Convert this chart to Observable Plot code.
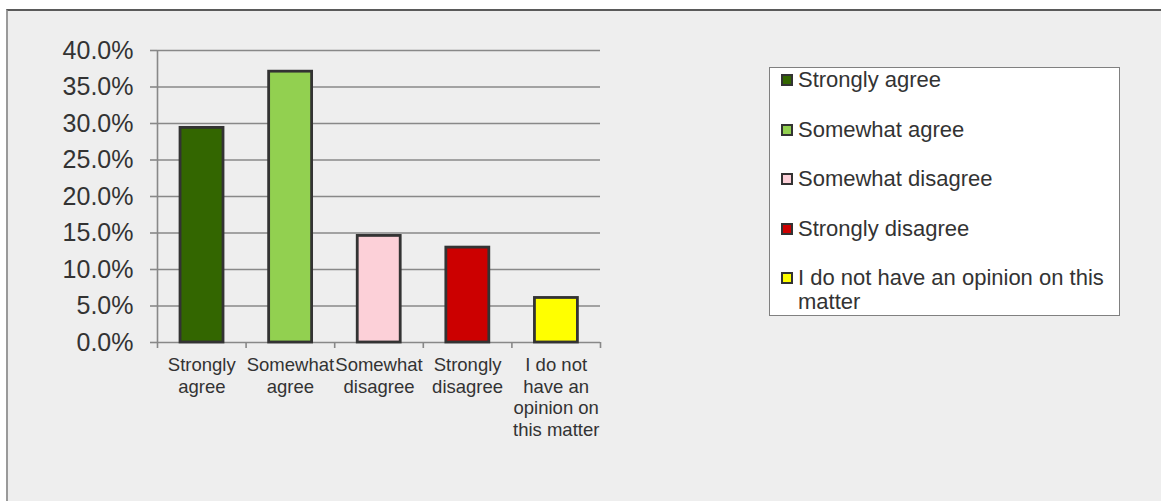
<!DOCTYPE html>
<html>
<head>
<meta charset="utf-8">
<script src="https://cdn.jsdelivr.net/npm/d3@7"></script>
<script src="https://cdn.jsdelivr.net/npm/@observablehq/plot@0.6"></script>
<style>
  html, body { margin: 0; padding: 0; background: #ffffff; }
  body { width: 1161px; height: 501px; position: relative; overflow: hidden; font-family: "Liberation Sans", Arial, sans-serif; }
  #frame { position: absolute; left: 6px; top: 9px; width: 1300px; height: 700px; background: #eeeeee;
           border-top: 2px solid #5a5a5a; border-left: 2px solid #9a9a9a; }
  #chart { position: absolute; left: 0; top: 0; }
  #legend { position: absolute; left: 769px; top: 67px; width: 349px; height: 247px; background: #ffffff;
            border: 1px solid #808080; }
  .item { position: absolute; left: 0; width: 349px; }
  .sw { position: absolute; left: 11px; width: 8px; height: 8px; border: 2px solid #333333; }
  .lt { position: absolute; left: 28px; width: 318px; font-size: 22px; line-height: 24px; color: #333333; }
</style>
</head>
<body>
<div id="frame"></div>
<div id="chart"></div>
<div id="legend"></div>
<script>
const categories = ["Strongly agree", "Somewhat agree", "Somewhat disagree", "Strongly disagree", "I do not have an opinion on this matter"];
const values = [0.294, 0.371, 0.146, 0.130, 0.061];
const colors = ["#336600", "#92d050", "#fcd0d8", "#cc0000", "#ffff00"];
const tickLabels = ["Strongly\nagree", "Somewhat\nagree", "Somewhat\ndisagree", "Strongly\ndisagree", "I do not\nhave an\nopinion on\nthis matter"];
const yTicks = [0, 0.05, 0.10, 0.15, 0.20, 0.25, 0.30, 0.35, 0.40];

const data = categories.map((c, i) => ({category: c, index: i, value: values[i], label: tickLabels[i]}));
const boundaries = d3.range(categories.length + 1);

const chart = Plot.plot({
  width: 1161,
  height: 501,
  marginLeft: 157,
  marginRight: 561,
  marginTop: 50,
  marginBottom: 159,
  style: {background: "transparent", fontFamily: "'Liberation Sans', Arial, sans-serif", overflow: "visible"},
  x: {type: "linear", domain: [0, categories.length], axis: null},
  y: {domain: [0, 0.4], axis: null},
  color: {domain: categories, range: colors},
  marks: [
    Plot.gridY(yTicks, {stroke: "#888888", strokeOpacity: 1, strokeWidth: 1.6}),
    Plot.axisY(yTicks, {tickSize: 7, tickPadding: 17, tickFormat: d3.format(".1%"), fontSize: 25,
      stroke: "#888888", strokeWidth: 1.6, fill: "#333333", label: null}),
    Plot.ruleX([0], {stroke: "#888888", strokeWidth: 1.6}),
    Plot.axisX(boundaries, {tickSize: 6, tickFormat: () => "", stroke: "#888888", strokeWidth: 1.6, label: null}),
    Plot.rect(data, {x1: d => d.index + 0.26, x2: d => d.index + 0.745, y1: 0, y2: "value",
      fill: "category", stroke: "#333333", strokeWidth: 2.8}),
    Plot.text(data, {x: d => d.index + 0.5, y: 0, text: "label", lineAnchor: "top", dy: 13,
      fontSize: 18.5, lineHeight: 1.17, fill: "#333333"})
  ]
});
document.getElementById("chart").appendChild(chart);

const legend = document.getElementById("legend");
categories.forEach((c, i) => {
  const center = 12 + 49.5 * i;
  const item = document.createElement("div");
  item.className = "item";
  item.style.top = (center - 12) + "px";
  const sw = document.createElement("div");
  sw.className = "sw";
  sw.style.top = "6px";
  sw.style.background = colors[i];
  const lt = document.createElement("div");
  lt.className = "lt";
  lt.style.top = "0px";
  lt.textContent = c;
  item.appendChild(sw);
  item.appendChild(lt);
  legend.appendChild(item);
});
</script>
</body>
</html>
